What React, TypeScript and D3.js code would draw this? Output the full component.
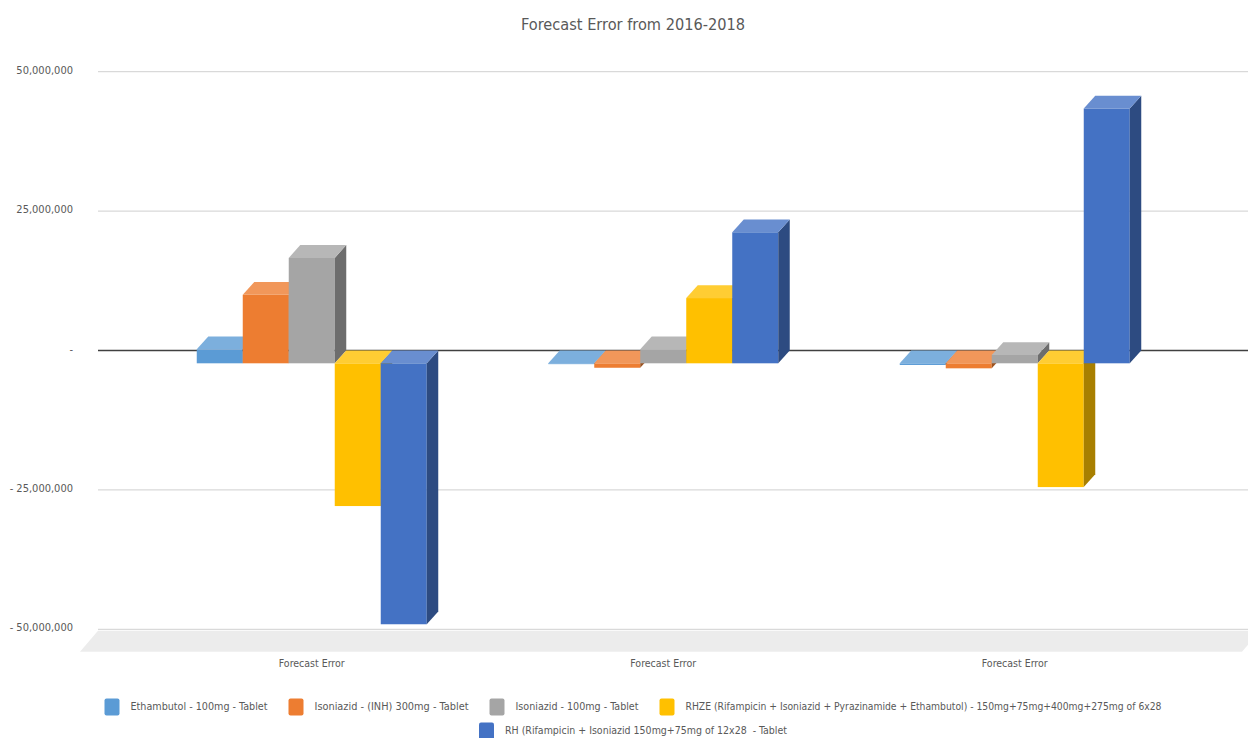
import React from "react";
import * as d3 from "d3";

// ---------- data ----------
const categories = ["Forecast Error", "Forecast Error", "Forecast Error"];
const seriesNames = [
  "Ethambutol - 100mg - Tablet",
  "Isoniazid - (INH) 300mg - Tablet",
  "Isoniazid - 100mg - Tablet",
  "RHZE (Rifampicin + Isoniazid + Pyrazinamide + Ethambutol) - 150mg+75mg+400mg+275mg of 6x28",
  "RH (Rifampicin + Isoniazid 150mg+75mg of 12x28  - Tablet",
];
const ethambutol = [2.5e6, -0.15e6, -0.3e6];
const isoniazidINH = [12.3e6, -0.8e6, -0.9e6];
const isoniazid100 = [18.9e6, 2.5e6, 1.5e6];
const rhze = [-25.6e6, 11.7e6, -22.2e6];
const rh = [-46.8e6, 23.5e6, 45.7e6];
const seriesValues = [ethambutol, isoniazidINH, isoniazid100, rhze, rh];
const yTicks = [-50e6, -25e6, 0, 25e6, 50e6];
const title = "Forecast Error from 2016-2018";

// ---------- style ----------
const W = 1248;
const H = 738;
const colors = ["#5B9BD5", "#ED7D31", "#A5A5A5", "#FFC000", "#4472C4"];
const FONT = "'Liberation Sans Narrow', 'DejaVu Sans Condensed', 'Liberation Sans', Arial, sans-serif";
const TEXT = "#595959";
const DX = 11.5; // depth offset x (front -> back)
const DY = 12.8; // depth offset y (front is lower)
const legendTextW = [137, 154, 123, 476, 282];

function lighten(c: string, k: number) {
  return d3.interpolateRgb(c, "#ffffff")(k);
}
function darken(c: string, k: number) {
  const r = d3.rgb(c);
  return d3.rgb(r.r * k, r.g * k, r.b * k).formatHex();
}

function fmt(v: number) {
  if (v === 0) return "-";
  const s = d3.format(",")(Math.abs(v));
  return v < 0 ? "- " + s : s;
}

export default function App() {
  const y = d3.scaleLinear().domain([-50e6, 50e6]).range([629.3, 71.7]);
  const yF = (v: number) => y(v) + DY;
  const xGroup = d3.scaleBand<number>().domain(categories.map((_, i) => i)).range([136, 1190.5]).padding(0);
  const innerW = 230;
  const xSeries = d3.scaleBand<number>().domain(seriesNames.map((_, i) => i)).range([0, innerW]).padding(0);
  const bw = xSeries.bandwidth();

  const wallLeft = 98;
  const wallRight = 1260;
  const floorBack = y(-50e6) + 1.5;
  const floorFront = floorBack + 21;
  const floorDx = 18;

  const bars: React.ReactNode[] = [];
  categories.forEach((_, g) => {
    const gx = (xGroup(g) as number) + (xGroup.bandwidth() - innerW) / 2;
    seriesValues.forEach((vals, s) => {
      const v = vals[g];
      const c = colors[s];
      const x0 = gx + (xSeries(s) as number);
      const x1 = x0 + bw;
      const yt = yF(Math.max(v, 0));
      const yb = yF(Math.min(v, 0));
      bars.push(
        <g key={`b${g}-${s}`}>
          <rect x={x0} y={yt} width={bw} height={Math.max(0, yb - yt)} fill={c} />
          <polygon
            points={`${x1},${yt} ${x1 + DX},${yt - DY} ${x1 + DX},${yb - DY} ${x1},${yb}`}
            fill={darken(c, 0.66)}
          />
          <polygon
            points={`${x0},${yt} ${x1},${yt} ${x1 + DX},${yt - DY} ${x0 + DX},${yt - DY}`}
            fill={lighten(c, 0.2)}
          />
        </g>
      );
    });
  });

  // legend layout
  const sw = 15;
  const gapText = 11;
  const gapItem = 21;
  const rows = [[0, 1, 2, 3], [4]];
  const rowY = [707, 731];
  const cx = 633;
  const legend: React.ReactNode[] = [];
  rows.forEach((row, ri) => {
    const total = row.reduce((a, i) => a + sw + gapText + legendTextW[i], 0) + gapItem * (row.length - 1);
    let x = cx - total / 2;
    row.forEach((i) => {
      legend.push(
        <g key={`l${i}`}>
          <rect x={x} y={rowY[ri] - 8.5} width={sw} height={17} rx={2} fill={colors[i]} />
          <text
            x={x + sw + gapText}
            y={rowY[ri]}
            dominantBaseline="middle"
            fontSize={10.5}
            fill={TEXT}
            fontFamily={FONT}
            textLength={legendTextW[i]}
            lengthAdjust="spacingAndGlyphs"
            style={{ whiteSpace: "pre" }}
          >
            {seriesNames[i]}
          </text>
        </g>
      );
      x += sw + gapText + legendTextW[i] + gapItem;
    });
  });

  return (
    <svg
      width={W}
      height={H}
      style={{ position: "absolute", left: 0, top: 0, background: "#fff" }}
      fontFamily={FONT}
    >
      <rect x={0} y={0} width={W} height={H} fill="#fff" />
      <text
        x={633}
        y={25}
        textAnchor="middle"
        dominantBaseline="middle"
        fontSize={16}
        fill={TEXT}
        textLength={224}
        lengthAdjust="spacingAndGlyphs"
      >
        {title}
      </text>

      {/* floor */}
      <polygon
        points={`${wallLeft},${floorBack} ${wallRight},${floorBack} ${wallRight - floorDx},${floorFront} ${wallLeft - floorDx},${floorFront}`}
        fill="#ececec"
      />

      {/* gridlines on back wall */}
      {yTicks.map((t) => (
        <line
          key={`g${t}`}
          x1={wallLeft}
          x2={wallRight}
          y1={y(t)}
          y2={y(t)}
          stroke={t === 0 ? "#404040" : "#d9d9d9"}
          strokeWidth={t === 0 ? 1.5 : 1.2}
        />
      ))}

      {/* y tick labels */}
      {yTicks.map((t) => (
        <text
          key={`t${t}`}
          x={73}
          y={y(t) - 1}
          textAnchor="end"
          dominantBaseline="middle"
          fontSize={11}
          fill={TEXT}
        >
          {fmt(t)}
        </text>
      ))}

      {bars}

      {/* category labels */}
      {categories.map((c, i) => (
        <text
          key={`c${i}`}
          x={(xGroup(i) as number) + xGroup.bandwidth() / 2}
          y={664}
          textAnchor="middle"
          dominantBaseline="middle"
          fontSize={10.5}
          fill={TEXT}
        >
          {c}
        </text>
      ))}

      {legend}
    </svg>
  );
}
